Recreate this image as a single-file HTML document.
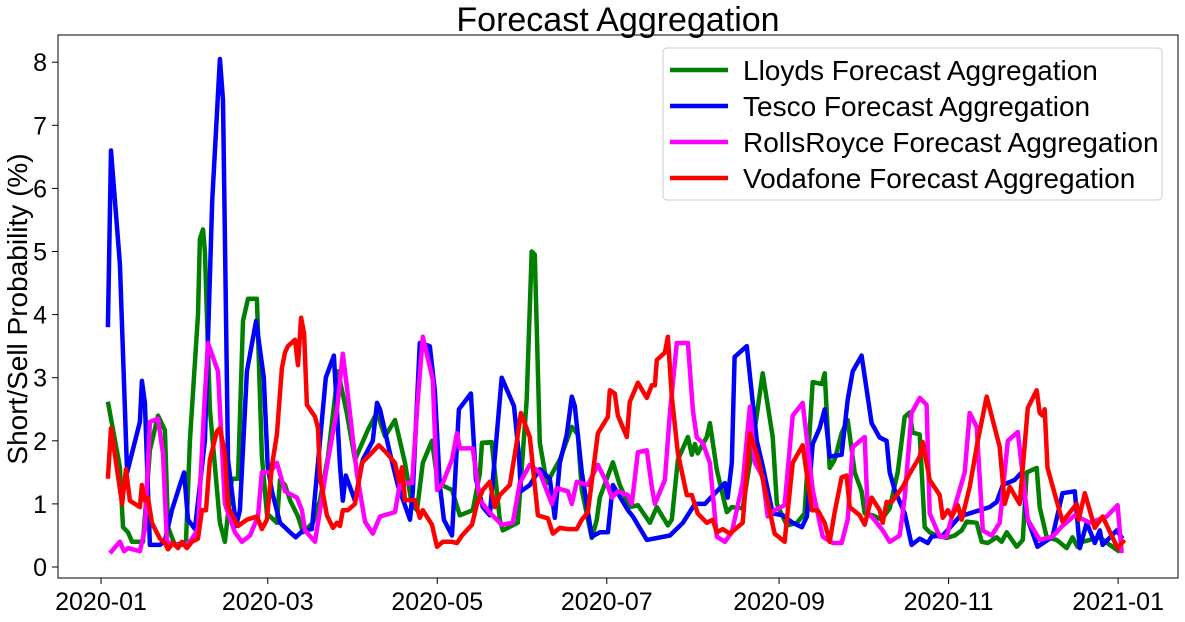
<!DOCTYPE html>
<html><head><meta charset="utf-8"><style>
body{margin:0;background:#fff;font-family:"Liberation Sans",sans-serif}
</style></head><body>
<svg id="c" width="1185" height="617" xmlns="http://www.w3.org/2000/svg" style="font-family:'Liberation Sans',sans-serif">
<text x="618" y="31" font-size="34" text-anchor="middle">Forecast Aggregation</text>
<text transform="translate(27,309) rotate(-90)" font-size="28" text-anchor="middle">Short/Sell Probability (%)</text>
<g id="plot"></g>
<rect x="58" y="35" width="1120" height="543" fill="none" stroke="#000" stroke-width="1"/>
<g id="axes"></g>
<g>
<rect x="663" y="48" width="499" height="152" rx="4" fill="#fff" fill-opacity="0.85" stroke="#ccc"/>
<line x1="670" y1="70" x2="728" y2="70" stroke="#008000" stroke-width="4.5"/>
<text x="743" y="80" font-size="28">Lloyds Forecast Aggregation</text>
<line x1="670" y1="106" x2="728" y2="106" stroke="#0000ff" stroke-width="4.5"/>
<text x="743" y="116" font-size="28">Tesco Forecast Aggregation</text>
<line x1="670" y1="142" x2="728" y2="142" stroke="#ff00ff" stroke-width="4.5"/>
<text x="743" y="152" font-size="28">RollsRoyce Forecast Aggregation</text>
<line x1="670" y1="178" x2="728" y2="178" stroke="#ff0000" stroke-width="4.5"/>
<text x="743" y="188" font-size="28">Vodafone Forecast Aggregation</text>
</g>
</svg>
<script>
const xTickDays=[0,60,121,182,244,305,366];
const xTickLabels=["2020-01","2020-03","2020-05","2020-07","2020-09","2020-11","2021-01"];
const yTicks=[0,1,2,3,4,5,6,7,8];
const tesco=[[2.5,3.8],[3.6,6.6],[6.8,4.8],[9.4,1.5],[14,2.3],[14.7,2.95],[15.8,2.6],[17.6,0.35],[21.2,0.35],[23,0.42],[25.5,0.9],[28.4,1.3],[29.9,1.5],[31.3,0.75],[33.8,0.6],[37.4,2.0],[40,5.8],[42.8,8.05],[43.9,7.4],[45.7,1.7],[48.6,0.65],[50,0.9],[52.5,3.1],[55.8,3.9],[58.6,3.0],[60,1.6],[61.5,1.2],[64.4,0.7],[68,0.55],[70.1,0.47],[72.7,0.58],[75.9,0.6],[80.9,3.0],[83.8,3.35],[86,1.6],[87,1.05],[88.1,1.45],[91.4,1.05],[94.2,1.7],[97.8,2.0],[99.3,2.6],[100.4,2.5],[104,1.8],[106.8,1.3],[111.2,0.75],[112.2,1.2],[114.7,3.55],[118.3,3.5],[120.1,2.8],[121.9,1.3],[123.4,0.75],[126.3,0.5],[128.8,2.5],[133.1,2.75],[134.9,1.4],[137.4,0.95],[139.9,0.82],[144.2,3.0],[148.6,2.55],[150.4,1.75],[151.1,1.2],[154.3,1.3],[157.9,1.55],[161.5,1.4],[163.3,0.78],[165.1,1.65],[167.6,2.1],[169.4,2.7],[170.5,2.55],[173,1.5],[176.6,0.48],[179.5,0.55],[182.4,0.55],[184.2,1.3],[189.6,0.9],[191.4,0.8],[196.4,0.43],[204.7,0.5],[209.4,0.7],[213.7,1.0],[217.3,1.0],[221.6,1.2],[224.5,1.33],[225.5,1.1],[227,1.65],[228,3.33],[232.4,3.5],[236,2.0],[238.1,1.6],[241.7,0.85],[245.3,0.82],[248.9,0.7],[252.2,0.63],[254,0.8],[256.1,1.95],[258.6,2.2],[260.4,2.5],[262.2,1.75],[266.5,1.78],[268.7,2.65],[270.5,3.1],[273.7,3.35],[277.3,2.28],[280.2,2.05],[282.7,2.0],[283.8,1.5],[285.6,1.22],[289.2,0.85],[291.7,0.35],[294.6,0.45],[297.5,0.38],[298.9,0.48],[302.9,0.5],[309,0.8],[316.2,0.9],[319.8,0.95],[322.3,1.03],[324.5,1.3],[328.8,1.38],[331.3,1.5],[333.1,0.8],[337,0.32],[342.4,0.48],[346,1.17],[350.4,1.2],[352.2,0.3],[354.7,0.7],[357.6,0.38],[359.4,0.58],[360.4,0.35],[365.5,0.58],[367.6,0.45]];
const lloyds=[[2.5,2.62],[6.8,1.58],[7.9,0.63],[9.7,0.55],[11.2,0.4],[15.1,0.4],[17.6,1.85],[20.5,2.4],[23,2.17],[24.1,0.63],[26.6,0.35],[30.6,0.4],[32,2.0],[34.9,4.0],[35.6,5.2],[36.7,5.35],[37.4,5.0],[39.2,2.5],[42.8,0.7],[44.6,0.4],[47.1,1.4],[49.3,1.4],[51.1,3.9],[52.9,4.25],[56.1,4.25],[57.9,1.75],[59.7,0.85],[63.3,0.7],[64.4,1.38],[66.2,1.3],[68,1.06],[70.9,0.8],[72.7,0.55],[76.3,0.7],[78.8,1.06],[81.7,1.75],[85.3,3.1],[88.5,2.43],[91.4,1.7],[96,2.17],[99.3,2.45],[102.2,2.07],[105.8,2.33],[109.4,1.65],[111.9,0.98],[113.7,0.9],[115.8,1.65],[119.1,2.0],[121.2,1.33],[126.3,1.22],[129.1,0.82],[133.8,0.9],[136.3,1.48],[137.1,1.97],[140.6,1.98],[143.5,0.75],[144.6,0.58],[150,0.7],[153.2,2.65],[155,5.0],[156.1,4.95],[157.9,1.97],[160.4,1.33],[165.1,1.7],[169.4,2.22],[171.6,2.1],[173,1.22],[176.6,0.46],[178.4,0.75],[179.5,1.1],[184.2,1.66],[186.7,1.3],[190.3,0.95],[193.2,0.98],[197.5,0.7],[200,0.95],[204,0.66],[205.4,0.75],[207.6,1.7],[211.2,2.06],[212.6,1.78],[213.7,1.95],[214.7,1.8],[218,2.06],[219.1,2.28],[221.6,1.54],[225.2,0.87],[227,0.95],[230.9,0.93],[234.2,1.85],[238.1,3.07],[241.7,2.06],[243.2,1.0],[246.8,0.66],[250.4,0.7],[253.2,0.85],[256.1,2.93],[259.4,2.9],[260.4,3.07],[262.2,1.57],[264,1.7],[266.5,2.12],[268.7,2.33],[271.2,1.5],[273.7,1.2],[274.8,0.85],[277.7,0.82],[280.9,0.75],[283.8,0.93],[286.7,1.5],[289.2,2.38],[291,2.45],[292.1,2.13],[294.6,2.1],[296.4,0.63],[298.2,0.55],[300.7,0.5],[304.3,0.46],[307.2,0.5],[309.7,0.58],[311.5,0.72],[315.1,0.7],[316.9,0.4],[319.1,0.38],[322.3,0.47],[324.1,0.4],[325.9,0.55],[329.5,0.32],[331.7,0.43],[333.1,1.5],[336.7,1.57],[337.8,0.95],[340.3,0.47],[343.9,0.43],[347.5,0.3],[349.6,0.47],[351.4,0.32],[353.2,0.4],[359.4,0.47],[363,0.35],[366.6,0.24]];
const rollsroyce=[[3.2,0.22],[6.8,0.4],[8.3,0.25],[9.7,0.3],[14,0.25],[15.8,0.6],[17.6,2.3],[20.5,2.35],[22.3,1.8],[23.7,0.4],[26.6,0.35],[30.2,0.35],[32,0.4],[34.9,0.6],[37.1,2.5],[38.5,3.55],[42.1,3.1],[44.6,1.0],[48.2,0.55],[50.7,0.4],[53.6,0.5],[56.5,0.8],[57.9,1.5],[60.8,1.5],[63.3,1.65],[66.2,1.2],[70.5,1.1],[72.3,0.9],[73.4,0.58],[77,0.4],[78.8,0.9],[81.3,1.6],[84.9,2.48],[87,3.38],[88.5,2.85],[92.1,1.48],[95,0.72],[97.8,0.53],[100.4,0.8],[105.8,0.87],[107.6,1.33],[111.9,1.33],[114,2.65],[115.8,3.65],[119.4,2.97],[120.9,1.22],[122.7,1.3],[126.3,1.7],[128.1,2.12],[129.1,1.88],[133.8,1.88],[136.3,1.06],[139.9,0.86],[144.2,0.67],[148.2,0.7],[150.7,1.33],[154.3,1.62],[157.9,1.5],[162.2,1.0],[164,1.25],[168,1.2],[169.4,1.0],[171.2,1.35],[175.2,1.3],[178.8,1.62],[182,1.33],[183.8,1.1],[186,1.2],[189.6,1.14],[191,1.0],[193.2,1.82],[196.4,1.85],[198.2,1.27],[199.3,1.0],[202.9,1.38],[204.7,2.44],[207.2,3.55],[211.2,3.55],[213,2.48],[214.4,2.05],[216.5,1.97],[219.1,1.65],[221.6,0.48],[224.5,0.4],[227,0.55],[230.9,1.33],[233.5,2.54],[235.3,1.65],[238.1,1.43],[239.9,0.8],[242.4,0.9],[246,0.98],[248.9,2.4],[252.5,2.6],[256.1,1.22],[259.7,0.48],[263.3,0.38],[266.5,0.38],[268.7,0.75],[270.5,1.9],[274.8,2.06],[275.9,0.85],[277.7,0.78],[281.3,0.58],[283.8,0.4],[287.4,0.5],[289.2,1.1],[291.7,2.44],[294.6,2.68],[297.1,2.57],[298.2,0.85],[301.8,0.48],[304.3,0.48],[306.5,0.85],[310.8,1.5],[312.6,2.44],[315.1,2.22],[317.3,0.58],[320.5,0.5],[323.4,0.7],[326.3,2.0],[329.9,2.14],[333.5,0.75],[337.8,0.43],[342.4,0.48],[345.7,0.64],[350.4,0.82],[355.8,0.7],[361.9,0.8],[365.8,0.98],[367.3,0.22]];
const vodafone=[[2.5,1.4],[3.6,2.2],[7.6,1.0],[9,1.55],[10.4,1.05],[14,0.95],[14.7,1.3],[15.8,1.05],[16.9,1.1],[18.3,0.7],[21.2,0.45],[23,0.38],[24.1,0.28],[25.9,0.38],[27.7,0.3],[29.1,0.4],[30.9,0.3],[32.7,0.4],[34.9,0.45],[36.3,0.9],[37.8,0.9],[39.2,1.7],[41.7,2.15],[42.8,2.2],[44.6,1.8],[45.7,0.95],[49.3,0.65],[52.5,0.75],[56.1,0.8],[57.9,0.6],[59.7,0.75],[61.5,1.6],[63.3,2.1],[65.1,3.15],[66.2,3.4],[67.3,3.5],[69.8,3.6],[70.9,3.2],[72,3.95],[73.1,3.7],[74.1,2.57],[77,2.38],[78.1,2.2],[78.8,1.42],[81.3,0.82],[83.5,0.62],[84.9,0.7],[86,0.65],[87,0.9],[88.8,0.9],[91.4,1.0],[93.9,1.65],[96.8,1.78],[100,1.93],[102.9,1.8],[105.8,1.65],[107.2,1.35],[108.3,1.58],[109.4,1.06],[113,1.06],[114.7,0.78],[115.8,0.9],[119.1,0.67],[120.9,0.32],[123,0.4],[126.3,0.4],[128.1,0.38],[129.9,0.5],[133.5,0.67],[135.3,1.0],[137.4,1.22],[139.9,1.35],[141.7,0.95],[143.5,1.14],[147.1,1.3],[149.6,1.97],[151.1,2.44],[154.3,2.06],[157.2,0.82],[160.8,0.77],[162.6,0.53],[165.1,0.62],[168,0.6],[171.2,0.6],[173,0.75],[175.2,0.87],[178.8,2.12],[182.4,2.38],[183.1,2.8],[184.9,2.75],[186,2.4],[189.2,2.06],[190.3,2.62],[193.2,2.92],[196.4,2.68],[198.2,2.88],[199.3,2.88],[200,3.28],[202.9,3.4],[204,3.65],[205.4,2.7],[207.6,1.8],[210.8,1.14],[212.6,1.14],[214.7,0.85],[218,0.7],[220.1,0.75],[221.6,0.55],[223.7,0.6],[226.3,0.53],[230.9,0.7],[233.5,2.12],[236.3,1.75],[239.6,1.1],[242.4,0.53],[246,0.4],[248.9,1.65],[252.5,1.93],[255.8,0.9],[257.9,0.9],[260.4,0.7],[262.2,0.4],[264,0.87],[266.5,1.42],[268.3,1.45],[269.4,0.95],[273,0.82],[274.8,0.67],[277.3,1.1],[280.2,0.9],[281.3,0.7],[282.7,1.03],[284.5,1.03],[288.5,1.27],[291,1.48],[294.6,1.75],[295.7,1.98],[298.2,1.38],[301.8,1.14],[302.9,0.78],[304.7,0.9],[306.1,0.8],[308.3,0.98],[309.7,0.75],[312.6,1.27],[315.5,2.0],[318.7,2.7],[323.4,1.9],[325.2,1.0],[327,1.27],[330.6,1.0],[333.5,2.52],[336.7,2.8],[337.8,2.44],[338.8,2.4],[339.6,2.5],[340.6,1.57],[345,0.87],[346,0.72],[351.1,1.0],[351.8,0.75],[354,1.17],[357.6,0.62],[360.4,0.8],[365.8,0.3],[368.3,0.43]];

const NS="http://www.w3.org/2000/svg";
function xs(d){return 101+d*2.779;}
function ys(v){return 567-v*63.1;}
const axes=document.getElementById('axes');
const plot=document.getElementById('plot');
yTicks.forEach(v=>{
  const l=document.createElementNS(NS,'line');
  l.setAttribute('x1',52);l.setAttribute('x2',58);l.setAttribute('y1',ys(v));l.setAttribute('y2',ys(v));l.setAttribute('stroke','#000');
  
  
  axes.appendChild(l);
  const t=document.createElementNS(NS,'text');
  t.setAttribute('x',47);t.setAttribute('y',ys(v)+9);t.setAttribute('font-size','25');t.setAttribute('text-anchor','end');
  t.textContent=v;
  
  
  axes.appendChild(t);
});
xTickDays.forEach((d,i)=>{
  const l=document.createElementNS(NS,'line');
  l.setAttribute('x1',xs(d));l.setAttribute('x2',xs(d));l.setAttribute('y1',578);l.setAttribute('y2',584);l.setAttribute('stroke','#000');
  
  
  axes.appendChild(l);
  const t=document.createElementNS(NS,'text');
  t.setAttribute('x',xs(d));t.setAttribute('y',610);t.setAttribute('font-size','25');t.setAttribute('text-anchor','middle');
  t.textContent=xTickLabels[i];
  
  
  axes.appendChild(t);
});
function draw(data,color,name){
  const p=document.createElementNS(NS,'polyline');
  p.setAttribute('points',data.map(a=>xs(a[0]).toFixed(1)+','+ys(a[1]).toFixed(1)).join(' '));
  p.setAttribute('fill','none');p.setAttribute('stroke',color);p.setAttribute('stroke-width','4.5');p.setAttribute('stroke-linejoin','round');
  
  
  plot.appendChild(p);
}
draw(lloyds,'#008000','lloyds-line');
draw(tesco,'#0000ff','tesco-line');
draw(rollsroyce,'#ff00ff','rollsroyce-line');
draw(vodafone,'#ff0000','vodafone-line');
</script>
</body></html>
